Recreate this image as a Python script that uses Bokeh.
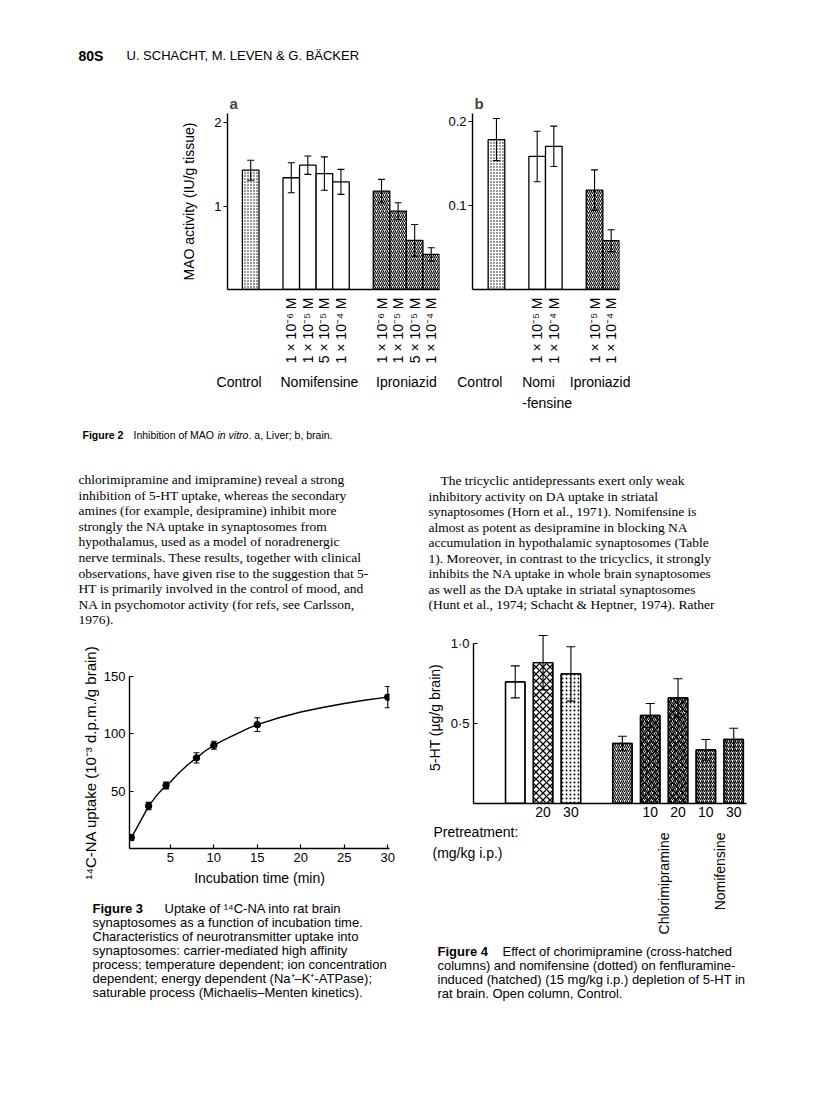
import numpy as np
from bokeh.plotting import figure
from bokeh.models import (FixedTicker, LinearAxis, Range1d, Spacer, Whisker,
                          TeeHead, ColumnDataSource)
from bokeh.layouts import column, row
from bokeh.embed import file_html
from bokeh.resources import INLINE
from bokeh.core.properties import value

SANS = "Liberation Sans"
SERIF = "Liberation Serif"

# ---------------- data ----------------
# Figure 2a - liver
liver_control = [1.43]
liver_control_err = [0.12]
liver_nomi = [1.34, 1.49, 1.39, 1.29]
liver_nomi_err = [0.18, 0.11, 0.20, 0.15]
liver_ipro = [1.18, 0.94, 0.59, 0.42]
liver_ipro_err = [0.14, 0.10, 0.19, 0.08]
liver_conc = ["1 × 10⁻⁶ M", "1 × 10⁻⁵ M", "5 × 10⁻⁵ M", "1 × 10⁻⁴ M"]
# Figure 2b - brain
brain_control = [0.178]
brain_control_err = [0.025]
brain_nomi = [0.158, 0.170]
brain_nomi_err = [0.030, 0.024]
brain_ipro = [0.118, 0.058]
brain_ipro_err = [0.024, 0.013]
brain_conc = ["1 × 10⁻⁵ M", "1 × 10⁻⁴ M"]
# Figure 3
f3_time = [0.5, 2.5, 4.5, 8, 10, 15, 30]
f3_uptake = [9.5, 37, 55, 79, 90, 108, 132]
f3_err = [2.5, 3.2, 3.0, 4.5, 3.5, 6.0, 9.3]
f3_curve_time = [0.5, 1, 1.5, 2, 2.5, 3, 3.5, 4, 4.5, 5, 6, 7, 8, 9, 10, 11,
                 12.5, 14, 15, 17.5, 20, 22.5, 25, 27.5, 30]
f3_curve_uptake = [9.5, 16, 23, 30, 37, 42, 47, 51, 55, 58, 66, 73, 79, 85, 90,
                   94, 99.5, 105, 108, 114, 119, 123, 126.5, 129.5, 132]
# Figure 4
f4_dose = ["", "20", "30", "", "10", "20", "10", "30"]
f4_5ht = [0.76, 0.88, 0.81, 0.375, 0.55, 0.66, 0.335, 0.40]
f4_err = [0.10, 0.17, 0.17, 0.045, 0.075, 0.12, 0.065, 0.07]
f4_group = [0, 0, 0, 1, 1, 1, 1, 1]
f4_fenfluramine = [False, False, False, True, True, True, True, True]
f4_drug = ["none", "chlor", "nomi", "none", "chlor", "chlor", "nomi", "nomi"]
f4_drug_names = {"chlor": "Chlorimipramine", "nomi": "Nomifensine"}


def base_fig(**kw):
    p = figure(toolbar_location=None, output_backend="svg", **kw)
    p.grid.visible = False
    p.outline_line_color = None
    p.background_fill_color = "white"
    p.border_fill_color = "white"
    return p


def text_fig(x0, x1, y0, y1):
    p = figure(width=x1 - x0, height=y1 - y0, x_range=Range1d(x0, x1),
               y_range=Range1d(y1, y0), x_axis_type=None, y_axis_type=None,
               toolbar_location=None, output_backend="svg", min_border=0)
    p.grid.visible = False
    p.outline_line_color = None
    return p


def put(p, x, y, s, size="13px", font=SANS, style="normal", align="left", angle=0):
    p.text(x=[x], y=[y], text=[s], text_font=value(font), text_font_size=size,
           text_font_style=style, text_align=align, text_baseline="middle",
           text_color="black", angle=angle)


def style_axis(ax, size="13px"):
    ax.axis_line_color = "black"
    ax.axis_line_width = 1.4
    ax.major_tick_line_color = "black"
    ax.major_tick_line_width = 1.2
    ax.minor_tick_line_color = None
    ax.major_label_text_font = SANS
    ax.major_label_text_font_size = size
    ax.major_label_text_color = "black"
    ax.axis_label_text_font = SANS
    ax.axis_label_text_font_style = "normal"
    ax.axis_label_text_font_size = "14px"
    ax.axis_label_text_color = "black"


def add_err(p, xs, ys, es, size):
    src = ColumnDataSource(dict(x=list(xs),
                                upper=[y + e for y, e in zip(ys, es)],
                                lower=[y - e for y, e in zip(ys, es)]))
    w = Whisker(source=src, base="x", upper="upper", lower="lower",
                line_color="black", line_width=1.1, level="overlay",
                upper_head=TeeHead(size=size, line_color="black", line_width=1.1),
                lower_head=TeeHead(size=size, line_color="black", line_width=1.1))
    p.add_layout(w)


def label_axis(p, ticks, labels, standoff, size="14px"):
    ax = LinearAxis(ticker=FixedTicker(ticks=ticks),
                    major_label_overrides={t: l for t, l in zip(ticks, labels)})
    style_axis(ax, size)
    ax.axis_line_color = None
    ax.major_tick_line_color = None
    ax.major_label_standoff = standoff
    p.add_layout(ax, "below")
    return ax


BAR = dict(fill_color="white", line_color="black", line_width=1.3)
DOTS = dict(hatch_pattern="dot", hatch_scale=3, hatch_weight=0.9, hatch_color="black")
HATCH = dict(hatch_pattern="right_diagonal_line", hatch_scale=4, hatch_weight=1.1, hatch_color="black")

# ---------------- Figure 2a ----------------
GAP2 = 1.45
a_ctrl_x = [1.4]
a_nomi_x = [round(a_ctrl_x[0] + 1 + GAP2 + i, 3) for i in range(len(liver_nomi))]
a_ipro_x = [round(a_nomi_x[-1] + 1 + GAP2 + i, 3) for i in range(len(liver_ipro))]
pa = base_fig(width=336, height=327, x_range=Range1d(0, a_ipro_x[-1] + 0.5),
              y_range=Range1d(0, 2.11), min_border_left=119, min_border_right=5,
              min_border_top=23, min_border_bottom=128, title="a")
pa.vbar(x=a_ctrl_x, top=liver_control, width=1, **BAR, **DOTS)
pa.vbar(x=a_nomi_x, top=liver_nomi, width=1, **BAR)
pa.vbar(x=a_ipro_x, top=liver_ipro, width=1, **BAR, **HATCH)
add_err(pa, a_ctrl_x + a_nomi_x + a_ipro_x, liver_control + liver_nomi + liver_ipro,
        liver_control_err + liver_nomi_err + liver_ipro_err, 7)

# ---------------- Figure 2b ----------------
b_ctrl_x = [1.44]
b_nomi_x = [round(b_ctrl_x[0] + 1 + GAP2 + i, 3) for i in range(len(brain_nomi))]
b_ipro_x = [round(b_nomi_x[-1] + 1 + GAP2 + i, 3) for i in range(len(brain_ipro))]
pb = base_fig(width=186, height=327, x_range=Range1d(0, b_ipro_x[-1] + 0.5),
              y_range=Range1d(0, 0.209), min_border_left=28, min_border_right=11,
              min_border_top=23, min_border_bottom=128, title="b")
pb.vbar(x=b_ctrl_x, top=brain_control, width=1, **BAR, **DOTS)
pb.vbar(x=b_nomi_x, top=brain_nomi, width=1, **BAR)
pb.vbar(x=b_ipro_x, top=brain_ipro, width=1, **BAR, **HATCH)
add_err(pb, b_ctrl_x + b_nomi_x + b_ipro_x, brain_control + brain_nomi + brain_ipro,
        brain_control_err + brain_nomi_err + brain_ipro_err, 7)

for p, yt, conc_x, conc_lab in ((pa, [1, 2], a_nomi_x + a_ipro_x, liver_conc * 2),
                                (pb, [0.1, 0.2], b_nomi_x + b_ipro_x, brain_conc * 2)):
    p.title.text_font = SANS
    p.title.text_font_size = "15px"
    p.title.text_font_style = "bold"
    p.title.align = "left"
    p.title.offset = 2
    p.title.standoff = 3
    ya = p.yaxis[0]
    style_axis(ya, "13px")
    ya.ticker = FixedTicker(ticks=yt)
    ya.major_tick_out = 4
    ya.major_tick_in = 0
    ya.major_label_standoff = 2
    xa = p.xaxis[0]
    style_axis(xa, "14px")
    xa.ticker = FixedTicker(ticks=conc_x)
    xa.major_label_overrides = {x: l for x, l in zip(conc_x, conc_lab)}
    xa.major_label_orientation = np.pi / 2
    xa.major_tick_in = 0
    xa.major_tick_out = 0
    xa.major_label_standoff = 8

pa.yaxis[0].axis_label = "MAO activity (IU/g tissue)"
pa.yaxis[0].axis_label_standoff = 14
a_grp_pos = [a_ctrl_x[0] - 0.7, round(np.mean(a_nomi_x) + 0.2, 3), round(np.mean(a_ipro_x), 3)]
label_axis(pa, a_grp_pos, ["Control", "Nomifensine", "Iproniazid"], 1)
b_grp_pos = [b_ctrl_x[0] - 1.0, round(np.mean(b_nomi_x) - 0.42, 3), round(np.mean(b_ipro_x) + 0.34, 3)]
label_axis(pb, b_grp_pos, ["Control", "Nomi", "Iproniazid"], 1)
label_axis(pb, [round(np.mean(b_nomi_x) + 0.1, 3)], ["-fensine"], -4)

# ---------------- Figure 3 ----------------
p3 = base_fig(width=420, height=262, x_range=Range1d(0.3, 30.2), y_range=Range1d(0, 150),
              min_border_left=129, min_border_right=31, min_border_top=48,
              min_border_bottom=42)
p3.line(f3_curve_time, f3_curve_uptake, line_color="black", line_width=1.4)
p3.scatter(f3_time, f3_uptake, size=6.5, color="black")
add_err(p3, f3_time, f3_uptake, f3_err, 6)
xa = p3.xaxis[0]
style_axis(xa, "13px")
xa.ticker = FixedTicker(ticks=[5, 10, 15, 20, 25, 30])
xa.major_tick_in = 4
xa.major_tick_out = 0
xa.major_label_standoff = 4
xa.axis_label = "Incubation time (min)"
xa.axis_label_standoff = 5
ya = p3.yaxis[0]
style_axis(ya, "13px")
ya.ticker = FixedTicker(ticks=[50, 100, 150])
ya.major_tick_in = 4
ya.major_tick_out = 0
ya.major_label_standoff = 4
ya.axis_label = "¹⁴C-NA uptake (10⁻³ d.p.m./g brain)"
ya.axis_label_text_font_size = "15px"
ya.axis_label_standoff = 2

# ---------------- Figure 4 ----------------
F4_GAP = 1.85
f4_x = [round(1.5 + i + (F4_GAP - 1) * g, 3) for i, g in enumerate(f4_group)]
F4_XMAX = 9.81
p4 = base_fig(width=396, height=196, x_range=Range1d(0, F4_XMAX), y_range=Range1d(0, 1.075),
              min_border_left=53, min_border_right=70, min_border_top=3,
              min_border_bottom=21)
p4.vbar(x=f4_x, top=f4_5ht, width=0.7, **BAR)
hx = [x for x, f in zip(f4_x, f4_fenfluramine) if f]
hy = [y for y, f in zip(f4_5ht, f4_fenfluramine) if f]
p4.vbar(x=hx, top=hy, width=0.7, fill_color=None, line_color=None, **HATCH)
cx = [x for x, d in zip(f4_x, f4_drug) if d == "chlor"]
cy = [y for y, d in zip(f4_5ht, f4_drug) if d == "chlor"]
p4.vbar(x=cx, top=cy, width=0.7, fill_color=None, line_color=None,
        hatch_pattern="diagonal_cross", hatch_scale=7, hatch_weight=1.3, hatch_color="black")
nx = [x for x, d in zip(f4_x, f4_drug) if d == "nomi"]
ny = [y for y, d in zip(f4_5ht, f4_drug) if d == "nomi"]
p4.vbar(x=nx, top=ny, width=0.7, fill_color=None, line_color=None,
        hatch_pattern="dot", hatch_scale=4, hatch_weight=1.3, hatch_color="black")
p4.vbar(x=f4_x, top=f4_5ht, width=0.7, fill_color=None, line_color="black", line_width=1.3)
add_err(p4, f4_x, f4_5ht, f4_err, 9)
xa = p4.xaxis[0]
style_axis(xa, "14px")
dose_x = [x for x, d in zip(f4_x, f4_dose) if d]
xa.ticker = FixedTicker(ticks=dose_x)
xa.major_label_overrides = {x: d for x, d in zip(f4_x, f4_dose) if d}
xa.major_tick_in = 0
xa.major_tick_out = 0
xa.major_label_standoff = 3
ya = p4.yaxis[0]
style_axis(ya, "13px")
ya.ticker = FixedTicker(ticks=[0.5, 1.0])
ya.major_label_overrides = {0.5: "0·5", 1.0: "1·0"}
ya.bounds = (0, 1.0)
ya.major_tick_in = 4
ya.major_tick_out = 0
ya.major_label_standoff = 4
ya.axis_label = "5-HT (µg/g brain)"
ya.axis_label_standoff = 5

# ---------------- text panels (page pixel coordinates) ----------------
header = text_fig(0, 816, 0, 90)
put(header, 78, 55, "80S", "14px", style="bold")
put(header, 126, 55, "U. SCHACHT, M. LEVEN & G. BÄCKER", "13px")

t2 = text_fig(0, 816, 417, 628)
put(t2, 82, 434, "Figure 2", "10.5px", style="bold")
put(t2, 133, 434, "Inhibition of MAO", "10.5px")
put(t2, 217, 434, "in vitro", "10.5px", style="italic")
put(t2, 248, 434, ". a, Liver; b, brain.", "10.5px")

left_lines = [
    "chlorimipramine and imipramine) reveal a strong",
    "inhibition of 5-HT uptake, whereas the secondary",
    "amines (for example, desipramine) inhibit more",
    "strongly the NA uptake in synaptosomes from",
    "hypothalamus, used as a model of noradrenergic",
    "nerve terminals. These results, together with clinical",
    "observations, have given rise to the suggestion that 5-",
    "HT is primarily involved in the control of mood, and",
    "NA in psychomotor activity (for refs, see Carlsson,",
    "1976).",
]
right_lines = [
    "The tricyclic antidepressants exert only weak",
    "inhibitory activity on DA uptake in striatal",
    "synaptosomes (Horn et al., 1971). Nomifensine is",
    "almost as potent as desipramine in blocking NA",
    "accumulation in hypothalamic synaptosomes (Table",
    "1). Moreover, in contrast to the tricyclics, it strongly",
    "inhibits the NA uptake in whole brain synaptosomes",
    "as well as the DA uptake in striatal synaptosomes",
    "(Hunt et al., 1974; Schacht & Heptner, 1974). Rather",
]
for i, s in enumerate(left_lines):
    put(t2, 78, 479 + 15.6 * i, s, "13.5px", font=SERIF)
for i, s in enumerate(right_lines):
    put(t2, 440 if i == 0 else 428, 480 + 15.55 * i, s, "13.5px", font=SERIF)

t3 = text_fig(0, 420, 890, 1103)
put(t3, 92, 908, "Figure 3", "13px", style="bold")
put(t3, 164, 908, "Uptake of ¹⁴C-NA into rat brain", "13px")
cap3 = [
    "synaptosomes as a function of incubation time.",
    "Characteristics of neurotransmitter uptake into",
    "synaptosomes: carrier-mediated high affinity",
    "process; temperature dependent; ion concentration",
    "dependent; energy dependent (Na⁺–K⁺-ATPase);",
    "saturable process (Michaelis–Menten kinetics).",
]
for i, s in enumerate(cap3):
    put(t3, 92, 922 + 13.95 * i, s, "13px")

t4 = text_fig(420, 816, 824, 1103)
put(t4, 433, 831, "Pretreatment:", "14px")
put(t4, 432, 852, "(mg/kg i.p.)", "14px")
F4_LEFT = 420 + 53
F4_SCALE = (396 - 53 - 70) / F4_XMAX
for key, name in f4_drug_names.items():
    xs = [x for x, d, f in zip(f4_x, f4_drug, f4_fenfluramine) if d == key and f]
    put(t4, F4_LEFT + np.mean(xs) * F4_SCALE, 832, name, "14px", align="right",
        angle=np.pi / 2)
put(t4, 437, 951, "Figure 4", "13px", style="bold")
put(t4, 502, 951, "Effect of chorimipramine (cross-hatched", "13px")
cap4 = [
    "columns) and nomifensine (dotted) on fenfluramine-",
    "induced (hatched) (15 mg/kg i.p.) depletion of 5-HT in",
    "rat brain. Open column, Control.",
]
for i, s in enumerate(cap4):
    put(t4, 437, 965 + 13.9 * i, s, "13px")

layout = column(
    header,
    row(Spacer(width=108, height=327), pa, pb, Spacer(width=186, height=327)),
    t2,
    row(column(row(p3), row(t3)), column(row(p4), row(t4))),
)

open("out.html", "w").write(file_html(layout, INLINE))
